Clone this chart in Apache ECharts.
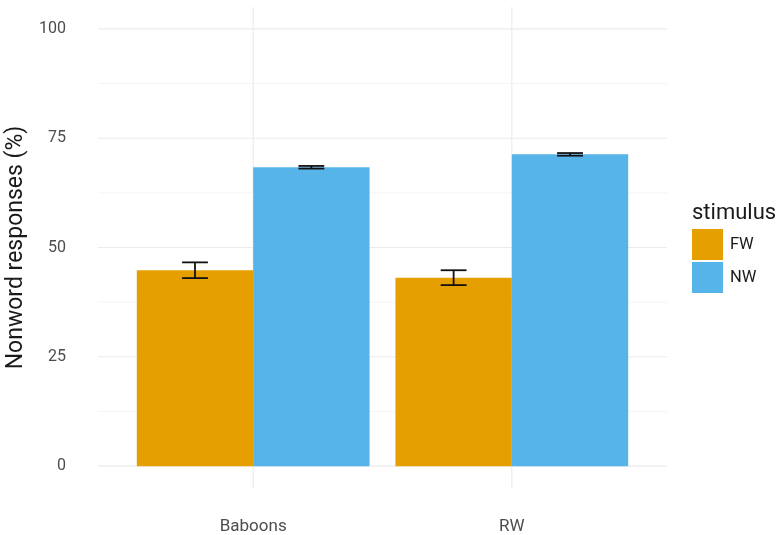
<!DOCTYPE html>
<html>
<head>
<meta charset="utf-8">
<script src="https://cdn.jsdelivr.net/npm/echarts@6/dist/echarts.min.js"></script>
<style>html,body{margin:0;padding:0;background:#fff;}#c{width:779px;height:535px;}</style>
</head>
<body>
<div id="c"></div>
<script>
const categories = ['Baboons', 'RW'];
const stimulusNames = ['FW', 'NW'];
const fwValues = [44.8, 43.1];
const nwValues = [68.35, 71.3];
const fwErr = [1.8, 1.7];
const nwErr = [0.3, 0.3];
const yTicks = [0, 25, 50, 75, 100];
const yMinor = [12.5, 37.5, 62.5, 87.5];
const colors = ['#E69F00', '#56B4E9'];

const FONT = 'Roboto, "Liberation Sans", sans-serif';
const dodge = 0.45;     // each bar's width in category units
const capHalf = 0.05;   // error bar cap half width
const xMin = 0.4, xMax = 2.6, yMin = -5, yMax = 105;

const chart = echarts.init(document.getElementById('c'), null, {renderer: 'canvas'});

function barSeries(name, values, idx, color) {
  const data = values.map((v, i) => [i + 1, v]);
  return {
    name: name, type: 'custom', z: 3,
    itemStyle: {color: color},
    data: data,
    renderItem: function (params, api) {
      const x = api.value(0), v = api.value(1);
      const left = idx === 0 ? x - dodge : x;
      const p0 = api.coord([left, v]);
      const p1 = api.coord([left + dodge, 0]);
      return {type: 'rect', shape: {x: p0[0], y: p0[1], width: p1[0] - p0[0], height: p1[1] - p0[1]},
        style: {fill: color}};
    }
  };
}

function errSeries(values, errs, idx) {
  const data = values.map((v, i) => [i + 1 + (idx === 0 ? -dodge / 2 : dodge / 2), v - errs[i], v + errs[i]]);
  return {
    type: 'custom', z: 4, silent: true,
    data: data,
    renderItem: function (params, api) {
      const x = api.value(0), lo = api.value(1), hi = api.value(2);
      const st = {stroke: '#111', lineWidth: 1.8};
      const a = api.coord([x, lo]), b = api.coord([x, hi]);
      const l1 = api.coord([x - capHalf, lo]), r1 = api.coord([x + capHalf, lo]);
      const l2 = api.coord([x - capHalf, hi]), r2 = api.coord([x + capHalf, hi]);
      return {type: 'group', children: [
        {type: 'line', shape: {x1: a[0], y1: a[1], x2: b[0], y2: b[1]}, style: st},
        {type: 'line', shape: {x1: l1[0], y1: l1[1], x2: r1[0], y2: r1[1]}, style: st},
        {type: 'line', shape: {x1: l2[0], y1: l2[1], x2: r2[0], y2: r2[1]}, style: st}
      ]};
    }
  };
}

const gridLineData = [];
yTicks.forEach(v => gridLineData.push(['h', v, 'major']));
yMinor.forEach(v => gridLineData.push(['h', v, 'minor']));
categories.forEach((c, i) => gridLineData.push(['v', i + 1, 'major']));

const gridSeries = {
  type: 'custom', z: 1, silent: true,
  data: gridLineData.map(d => [d[1], 0]),
  renderItem: function (params, api) {
    const d = gridLineData[params.dataIndex];
    const st = {stroke: d[2] === 'major' ? '#ebebeb' : '#f4f4f4', lineWidth: d[2] === 'major' ? 1.1 : 0.9};
    let p, q;
    if (d[0] === 'h') { p = api.coord([xMin, d[1]]); q = api.coord([xMax, d[1]]); }
    else { p = api.coord([d[1], yMin]); q = api.coord([d[1], yMax]); }
    return {type: 'line', shape: {x1: p[0], y1: p[1], x2: q[0], y2: q[1]}, style: st};
  }
};

chart.setOption({
  animation: false,
  backgroundColor: '#ffffff',
  textStyle: {fontFamily: FONT},
  grid: {left: 98, right: 112, top: 7, bottom: 47, containLabel: false, outerBoundsMode: 'none'},
  title: {text: 'stimulus', left: 687, top: 197,
    textStyle: {fontFamily: FONT, fontSize: 22, fontWeight: 'normal', color: '#1a1a1a'}},
  legend: {
    data: stimulusNames, orient: 'vertical', left: 692, top: 229,
    itemWidth: 31, itemHeight: 31, itemGap: 2, padding: 0, icon: 'rect',
    textStyle: {fontFamily: FONT, fontSize: 16.5, color: '#1a1a1a', padding: [0, 0, 0, 2]}
  },
  xAxis: {
    type: 'value', min: xMin, max: xMax,
    axisLine: {show: false}, axisTick: {show: false}, splitLine: {show: false},
    axisLabel: {customValues: [1, 2], formatter: v => categories[Math.round(v) - 1] || '',
      margin: 30, fontFamily: FONT, fontSize: 17, color: '#4d4d4d'}
  },
  yAxis: {
    type: 'value', min: yMin, max: yMax,
    name: 'Nonword responses (%)', nameLocation: 'middle', nameGap: 61,
    nameTextStyle: {fontFamily: FONT, fontSize: 23, color: '#1a1a1a'},
    axisLine: {show: false}, axisTick: {show: false}, splitLine: {show: false},
    axisLabel: {customValues: yTicks, formatter: v => String(v), margin: 32,
      fontFamily: FONT, fontSize: 16, color: '#4d4d4d'}
  },
  series: [
    gridSeries,
    barSeries('FW', fwValues, 0, colors[0]),
    barSeries('NW', nwValues, 1, colors[1]),
    errSeries(fwValues, fwErr, 0),
    errSeries(nwValues, nwErr, 1)
  ]
});
</script>
</body>
</html>
